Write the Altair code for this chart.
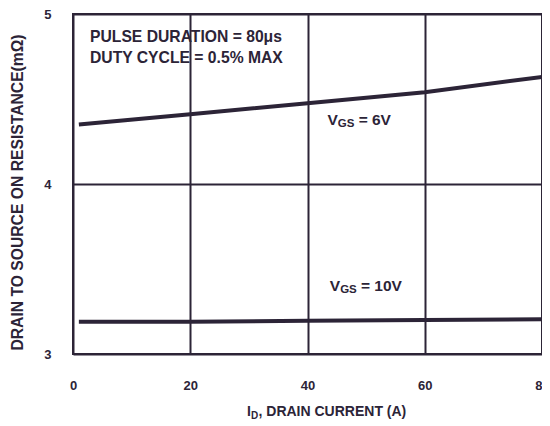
import altair as alt
import pandas as pd

# ---- data ----
current = [1, 20, 40, 60, 80]
r_vgs6 = [4.35, 4.41, 4.475, 4.54, 4.63]
r_vgs10 = [3.19, 3.19, 3.195, 3.20, 3.205]
x_ticks = [0, 20, 40, 60, 80]
y_ticks = [3, 4, 5]

note_lines = ["PULSE DURATION = 80\u03bcs", "DUTY CYCLE = 0.5% MAX"]
note_x = [2.9, 2.9]
note_y = [4.862, 4.744]

vgs_suffix = ["= 6V", "= 10V"]
vgs_x = [43.4, 43.8]
vgs_y = [4.375, 3.40]

INK = "#2c2437"
FONT = "Liberation Sans"

df = pd.DataFrame({
    "I": current * 2,
    "R": r_vgs6 + r_vgs10,
    "series": ["6V"] * len(current) + ["10V"] * len(current),
})
notes = pd.DataFrame({"I": note_x, "R": note_y, "t": note_lines})
vgs = pd.DataFrame({"I": vgs_x, "R": vgs_y, "t": vgs_suffix})
one = pd.DataFrame({"k": [0]})

xs = alt.Scale(domain=[0, 80], nice=False, zero=False)
ys = alt.Scale(domain=[3, 5], nice=False, zero=False)

xaxis = alt.Axis(values=x_ticks, grid=True, gridColor=INK, gridWidth=2, gridOpacity=1,
                 domain=False, ticks=False, labelFont=FONT, labelFontSize=13,
                 labelFontWeight="bold", labelColor=INK, labelPadding=25,
                 labelFlush=False, title=None,
                 labelExpr="format(datum.value, '.0f')")
yaxis = alt.Axis(values=y_ticks, grid=True, gridColor=INK, gridWidth=2, gridOpacity=1,
                 domain=False, ticks=False, labelFont=FONT, labelFontSize=13,
                 labelFontWeight="bold", labelColor=INK, labelPadding=22,
                 labelExpr="format(datum.value, '.0f')",
                 title="DRAIN TO SOURCE ON RESISTANCE(m\u03a9)", titleFont=FONT,
                 titleFontSize=15.7, titleFontWeight="bold", titleColor=INK,
                 titleX=-56, titleY=178, titleAlign="center", titleBaseline="middle",
                 titleAngle=270)

X = alt.X("I:Q", scale=xs, axis=xaxis)
Y = alt.Y("R:Q", scale=ys, axis=yaxis)

lines = alt.Chart(df).mark_line(color=INK, strokeWidth=4, strokeCap="butt").encode(
    x=X, y=Y, detail="series:N")

txt = dict(font=FONT, fontWeight="bold", color=INK, align="left", baseline="middle")

note_layer = alt.Chart(notes).mark_text(fontSize=15.7, **txt).encode(x=X, y=Y, text="t:N")

v_layer = alt.Chart(vgs).mark_text(fontSize=15.5, **txt).encode(x=X, y=Y, text=alt.value("V"))
gs_layer = alt.Chart(vgs).mark_text(fontSize=11.5, dx=10.4, dy=4, **txt).encode(
    x=X, y=Y, text=alt.value("GS"))
suf_layer = alt.Chart(vgs).mark_text(fontSize=15.5, dx=31.2, **txt).encode(x=X, y=Y, text="t:N")

xt_i = alt.Chart(one).mark_text(fontSize=14, **txt).encode(
    x=alt.value(174), y=alt.value(398), text=alt.value("I"))
xt_d = alt.Chart(one).mark_text(fontSize=10, dx=4, dy=4, **txt).encode(
    x=alt.value(174), y=alt.value(398), text=alt.value("D"))
xt_rest = alt.Chart(one).mark_text(fontSize=14, dx=11.5, **txt).encode(
    x=alt.value(174), y=alt.value(398), text=alt.value(", DRAIN CURRENT (A)"))

chart = alt.layer(lines, note_layer, v_layer, gs_layer, suf_layer, xt_i, xt_d, xt_rest).properties(
    width=469, height=340,
    autosize=alt.AutoSizeParams(type="none"),
    padding={"left": 65, "top": 6, "right": 0, "bottom": 66},
    background="white",
).configure_view(stroke=INK, strokeWidth=2)

chart.save("out.html", embed_options={"renderer": "svg", "actions": False})
